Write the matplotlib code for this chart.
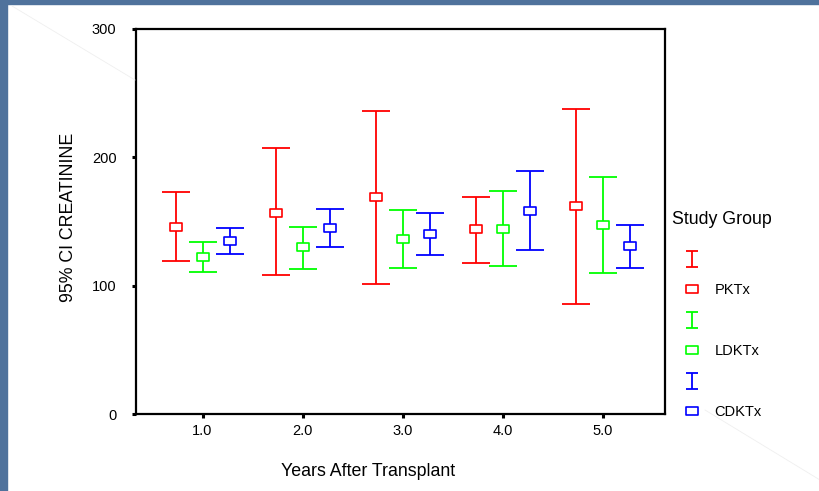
import numpy as np
import matplotlib
matplotlib.use('Agg')
import matplotlib.pyplot as plt
from matplotlib.path import Path
from matplotlib.lines import Line2D
from matplotlib.patches import Rectangle

plt.rcParams['font.family'] = ['Liberation Sans', 'DejaVu Sans']

# data
years = [1.0, 2.0, 3.0, 4.0, 5.0]
groups = ['PKTx', 'LDKTx', 'CDKTx']
colors = ['#ff0000', '#00ff00', '#0000ff']
offsets = [-0.265, 0.0, 0.27]

pktx_mean = [146, 157, 169, 144, 162]
pktx_low = [119, 108, 101, 118, 86]
pktx_high = [173, 207, 236, 169, 238]

ldktx_mean = [122, 130, 136, 144, 147]
ldktx_low = [111, 113, 114, 115, 110]
ldktx_high = [134, 146, 159, 174, 185]

cdktx_mean = [135, 145, 140, 158, 131]
cdktx_low = [125, 130, 124, 128, 114]
cdktx_high = [145, 160, 157, 189, 147]

means = [pktx_mean, ldktx_mean, cdktx_mean]
lows = [pktx_low, ldktx_low, cdktx_low]
highs = [pktx_high, ldktx_high, cdktx_high]

# open rectangle marker (wider than tall) and the I-bar used in the legend
rect = Path([(-0.5, -0.37), (0.5, -0.37), (0.5, 0.37), (-0.5, 0.37), (-0.5, -0.37)],
            [Path.MOVETO, Path.LINETO, Path.LINETO, Path.LINETO, Path.CLOSEPOLY])
ibar = Path([(-0.37, -0.5), (0.37, -0.5), (0, -0.5), (0, 0.5), (-0.37, 0.5), (0.37, 0.5)],
            [Path.MOVETO, Path.LINETO, Path.MOVETO, Path.LINETO, Path.MOVETO, Path.LINETO])

fig = plt.figure(figsize=(8.2, 4.91), dpi=100)
fig.patch.set_facecolor('white')
# slide border
fig.patches.append(Rectangle((0, 0), 7 / 820, 1, transform=fig.transFigure,
                             color='#4f729c', zorder=0))
fig.patches.append(Rectangle((0, 1 - 4 / 491), 1, 4 / 491, transform=fig.transFigure,
                             color='#4f729c', zorder=0))
fig.add_artist(Line2D([12 / 820, 135 / 820], [1 - 6 / 491, 1 - 80 / 491],
                      transform=fig.transFigure, color='#efefef', lw=0.6))
fig.add_artist(Line2D([705 / 820, 820 / 820], [1 - 410 / 491, 1 - 480 / 491],
                      transform=fig.transFigure, color='#efefef', lw=0.6))

ax = fig.add_axes([136 / 820, 1 - 414 / 491, (665 - 136) / 820, (414 - 29) / 491])

for i in range(3):
    x = np.array(years) + offsets[i]
    m = np.array(means[i])
    lo = m - np.array(lows[i])
    hi = np.array(highs[i]) - m
    ax.errorbar(x, m, yerr=[lo, hi], fmt='none', ecolor=colors[i],
                elinewidth=1.3, capsize=10, capthick=1.3)
    ax.plot(x, m, ls='none', marker=rect, mfc='white', mec=colors[i], ms=8, mew=1.2, zorder=3)

ax.set_xlim(0.335, 5.625)
ax.set_ylim(0, 300)
ax.set_xticks(years)
ax.set_xticklabels(['%.1f' % y for y in years])
ax.set_yticks([0, 100, 200, 300])
for s in ax.spines.values():
    s.set_linewidth(1.6)
ax.tick_params(direction='out', length=3, width=2.2, labelsize=10.5)
ax.tick_params(axis='y', pad=11)
ax.tick_params(axis='x', pad=4)
ax.set_ylabel('95% CI CREATININE', fontsize=12.8)
ax.yaxis.set_label_coords(-0.112, 0.51)
ax.set_xlabel('Years After Transplant', fontsize=12.8)
ax.xaxis.set_label_coords(0.4386, -0.128)

# legend
fig.text(672 / 820, 1 - 220 / 491, 'Study Group', fontsize=12.8, ha='left', va='center')
handles = []
labels = []
for i in range(3):
    handles.append(Line2D([], [], ls='none', marker=ibar, ms=11, mec=colors[i], mew=1.3))
    labels.append(' ')
    handles.append(Line2D([], [], ls='none', marker=rect, ms=8, mfc='none', mec=colors[i], mew=1.2))
    labels.append(groups[i])
leg = fig.legend(handles, labels, loc='upper left', bbox_to_anchor=(671 / 820, 1 - 253 / 491),
                 frameon=False, fontsize=10.5,
                 labelspacing=1.13, handlelength=2.9, handletextpad=0.1, borderpad=0,
                 borderaxespad=0)

fig.savefig('out.png', dpi=100)
